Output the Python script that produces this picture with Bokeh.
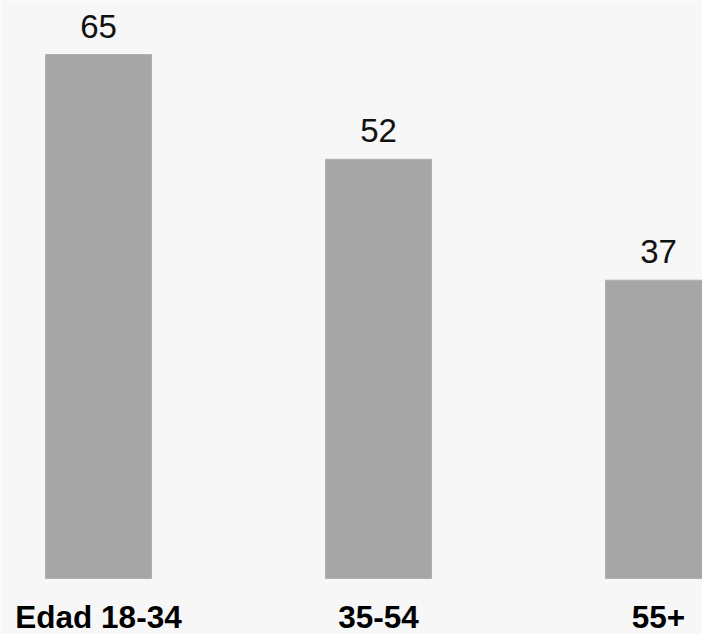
from bokeh.plotting import figure
from bokeh.models import Range1d, ColumnDataSource
from bokeh.core.properties import value
from bokeh.embed import file_html
from bokeh.resources import INLINE

categories = ["Edad 18-34", "35-54", "55+"]
values = [65, 52, 37]

xpos = list(range(len(categories)))
src = ColumnDataSource(dict(x=xpos, v=values, cat=categories,
                            lab=[str(v) for v in values], zero=[0] * len(values)))

W, H = 702, 634
px_x = 280.0
px_y = 524.0 / 65.0
x_start = -98.0 / px_x
y_start = -56.0 / px_y

p = figure(width=W, height=H, output_backend="svg", toolbar_location=None,
           x_range=Range1d(x_start, x_start + W / px_x),
           y_range=Range1d(y_start, y_start + H / px_y),
           min_border=0, background_fill_color="#f7f7f7",
           border_fill_color="#f7f7f7", outline_line_color=None)
p.axis.visible = False
p.grid.visible = False

p.vbar(x="x", top="v", bottom=0, width=106.0 / px_x, source=src,
       fill_color="#a6a6a6", line_color="#b0b0b0", line_width=1)

p.text(x="x", y="v", text="lab", source=src, y_offset=-17,
       text_align="center", text_baseline="bottom",
       text_font=value("Liberation Sans"), text_font_size="33px",
       text_color="#111111")

p.text(x="x", y="zero", text="cat", source=src, y_offset=38,
       text_align="center", text_baseline="alphabetic",
       text_font=value("Liberation Sans"), text_font_size="31.5px",
       text_font_style="bold", text_color="#000000")

open("out.html", "w").write(file_html(p, INLINE))
